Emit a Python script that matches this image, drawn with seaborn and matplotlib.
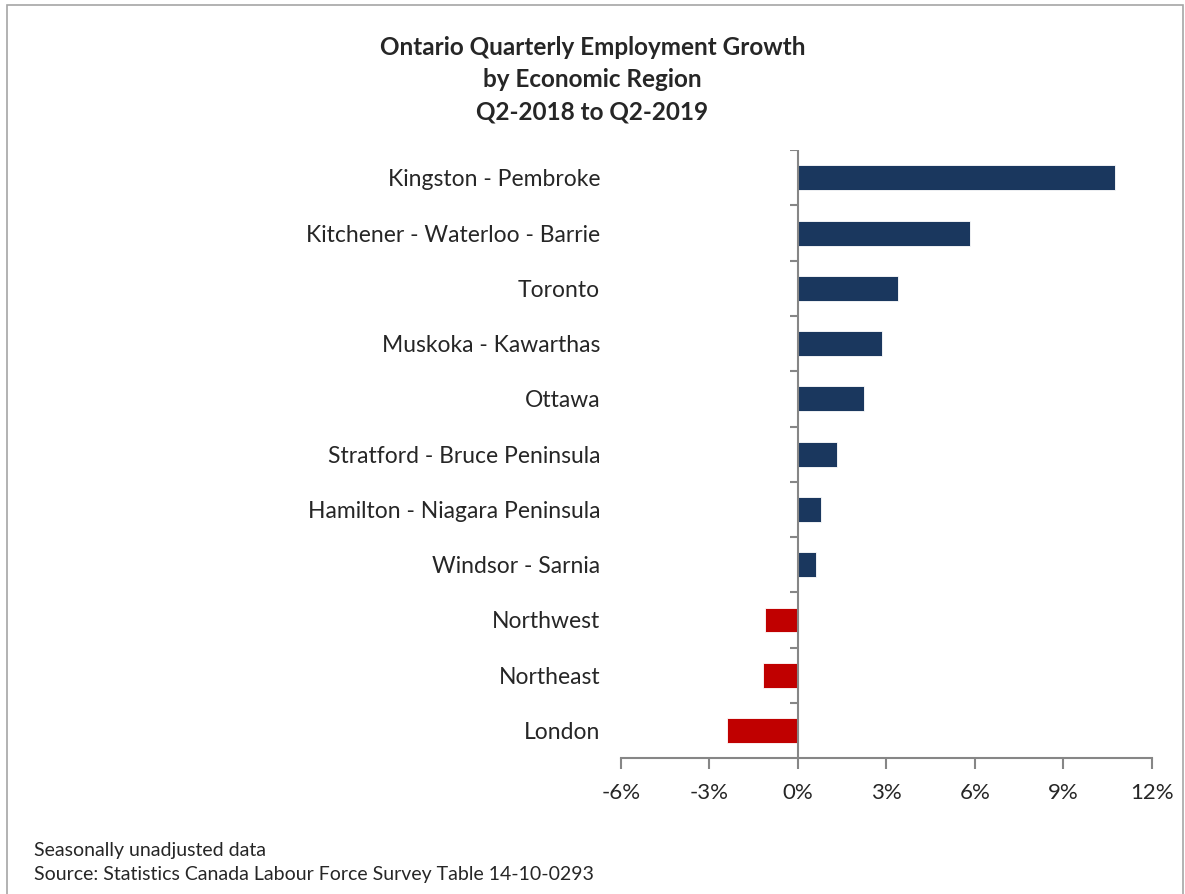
import matplotlib
matplotlib.use("Agg")
import matplotlib.pyplot as plt
import seaborn as sns
import pandas as pd
from matplotlib.patches import Rectangle

# Employment growth Q2-2018 to Q2-2019, %
regions = [
    "Kingston - Pembroke",
    "Kitchener - Waterloo - Barrie",
    "Toronto",
    "Muskoka - Kawarthas",
    "Ottawa",
    "Stratford - Bruce Peninsula",
    "Hamilton - Niagara Peninsula",
    "Windsor - Sarnia",
    "Northwest",
    "Northeast",
    "London",
]
growth = [10.75, 5.85, 3.4, 2.85, 2.25, 1.33, 0.8, 0.62, -1.13, -1.18, -2.4]
x_ticks = [-6, -3, 0, 3, 6, 9, 12]

NAVY = "#1A375E"
RED = "#C00000"
GREY = "#868686"

df = pd.DataFrame({"region": regions, "growth": growth})
df["sign"] = ["pos" if g >= 0 else "neg" for g in growth]

sns.set_theme(style="white")
plt.rcParams["font.family"] = ["Lato", "DejaVu Sans"]

fig = plt.figure(figsize=(11.85, 8.94), dpi=100)
ax = fig.add_axes([0.524, 0.152, 0.448, 0.680])

sns.barplot(data=df, x="growth", y="region", hue="sign",
            palette={"pos": NAVY, "neg": RED}, orient="h", saturation=1,
            width=0.45, dodge=False, legend=False, ax=ax,
            edgecolor="white", linewidth=0.6)

ax.set_xlim(-6, 12)
ax.set_ylim(len(regions) - 0.5, -0.5)
ax.set_xticks(x_ticks)
ax.set_xticklabels([f"{t}%" for t in x_ticks], fontsize=16)
ax.set_yticks(range(len(regions)))
ax.set_yticklabels(regions, fontsize=16.5)
ax.tick_params(axis="y", length=0, pad=15)
ax.tick_params(axis="x", direction="out", length=8, width=1.5,
               color=GREY, pad=10, bottom=True)
ax.set_xlabel("")
ax.set_ylabel("")

for side in ["top", "right", "left"]:
    ax.spines[side].set_visible(False)
ax.spines["bottom"].set_color(GREY)
ax.spines["bottom"].set_linewidth(1.5)

# vertical axis crosses at 0% with tick marks between categories
ax.axvline(0, color=GREY, linewidth=1.5, zorder=3)
ax.hlines([i - 0.5 for i in range(len(regions))], -0.28, 0,
          color=GREY, linewidth=1.5, zorder=3)

fig.text(0.5, 0.96, "Ontario Quarterly Employment Growth\nby Economic Region\nQ2-2018 to Q2-2019",
         ha="center", va="top", fontsize=17.5, fontweight="bold", linespacing=1.5)

fig.text(0.029, 0.049, "Seasonally unadjusted data", fontsize=14, va="center")
fig.text(0.029, 0.022, "Source: Statistics Canada Labour Force Survey Table 14-10-0293",
         fontsize=14, va="center")

fig.patches.append(Rectangle((0.006, -0.02), 0.992, 1.014, transform=fig.transFigure,
                             fill=False, edgecolor="#A6A6A6", linewidth=1.2))

fig.savefig("out.png", dpi=100)
